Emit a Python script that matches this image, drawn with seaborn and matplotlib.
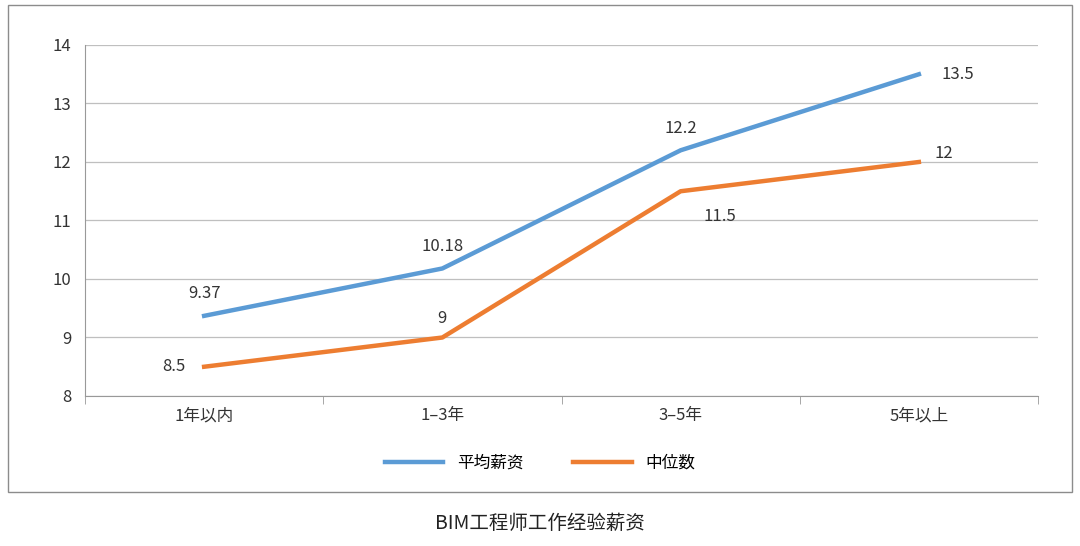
import matplotlib
matplotlib.use("Agg")
import matplotlib.pyplot as plt
from matplotlib import font_manager
from matplotlib.patches import Rectangle
import pandas as pd
import seaborn as sns

cjk = [f.name for f in font_manager.fontManager.ttflist if "CJK" in f.name]
plt.rcParams["font.family"] = "sans-serif"
plt.rcParams["font.sans-serif"] = ["Noto Sans CJK SC", "Noto Sans CJK JP"] + cjk + ["DejaVu Sans"]

categories = ["1年以内", "1–3年", "3–5年", "5年以上"]
avg_salary = [9.37, 10.18, 12.2, 13.5]
median_salary = [8.5, 9, 11.5, 12]
series_names = ["平均薪资", "中位数"]
colors = ["#5b9bd5", "#ed7d31"]
yticks = [8, 9, 10, 11, 12, 13, 14]

df = pd.DataFrame({
    "x": list(range(len(categories))) * 2,
    "value": avg_salary + median_salary,
    "series": [series_names[0]] * 4 + [series_names[1]] * 4,
})

W, H = 1080, 546
fig = plt.figure(figsize=(W / 100, H / 100), dpi=100)
ax = fig.add_axes([85 / W, 1 - 396 / H, (1038 - 85) / W, (396 - 45) / H])

sns.lineplot(data=df, x="x", y="value", hue="series", palette=colors,
             linewidth=3.2, ax=ax, legend=False)

ax.set_xlim(-0.5, 3.5)
ax.set_ylim(8, 14)
ax.set_yticks(yticks)
ax.set_xticks([0, 1, 2, 3])
ax.set_xticklabels(categories)
ax.set_xticks([-0.5, 0.5, 1.5, 2.5, 3.5], minor=True)
ax.tick_params(axis="x", which="major", length=0, labelsize=12, pad=8, colors="#333333")
ax.tick_params(axis="x", which="minor", length=6, color="#999999")
ax.tick_params(axis="y", length=0, labelsize=12, colors="#333333", pad=10)
ax.grid(axis="y", color="#bfbfbf", linewidth=0.9)
ax.set_axisbelow(True)
for s in ["top", "right"]:
    ax.spines[s].set_visible(False)
for s in ["left", "bottom"]:
    ax.spines[s].set_color("#999999")
ax.set_xlabel("")
ax.set_ylabel("")

# data labels
fs = 12
avg_off = [(0, 16, "center"), (0, 16, "center"), (0, 16, "center"), (28, 0, "center")]
med_off = [(-22, 0, "center"), (0, 14, "center"), (28, -18, "center"), (18, 6, "center")]
for i, v in enumerate(avg_salary):
    dx, dy, ha = avg_off[i]
    ax.annotate(f"{v:g}", (i, v), xytext=(dx, dy), textcoords="offset points",
                ha=ha, va="center", fontsize=fs, color="#333333")
for i, v in enumerate(median_salary):
    dx, dy, ha = med_off[i]
    ax.annotate(f"{v:g}", (i, v), xytext=(dx, dy), textcoords="offset points",
                ha=ha, va="center", fontsize=fs, color="#333333")

handles = [plt.Line2D([], [], color=c, linewidth=3.2) for c in colors]
fig.legend(handles, series_names, loc="center", bbox_to_anchor=(0.5, 1 - 463 / H),
           ncol=2, frameon=False, fontsize=12, handlelength=3.5, columnspacing=3)

fig.patches.append(Rectangle((8 / W, 1 - 492 / H), (1072 - 8) / W, (492 - 5) / H,
                             transform=fig.transFigure, fill=False,
                             edgecolor="#8c8c8c", linewidth=1))
fig.text(0.5, 1 - 523 / H, "BIM工程师工作经验薪资", ha="center", va="center",
         fontsize=14, color="#222222")

fig.savefig("out.png", dpi=100)
